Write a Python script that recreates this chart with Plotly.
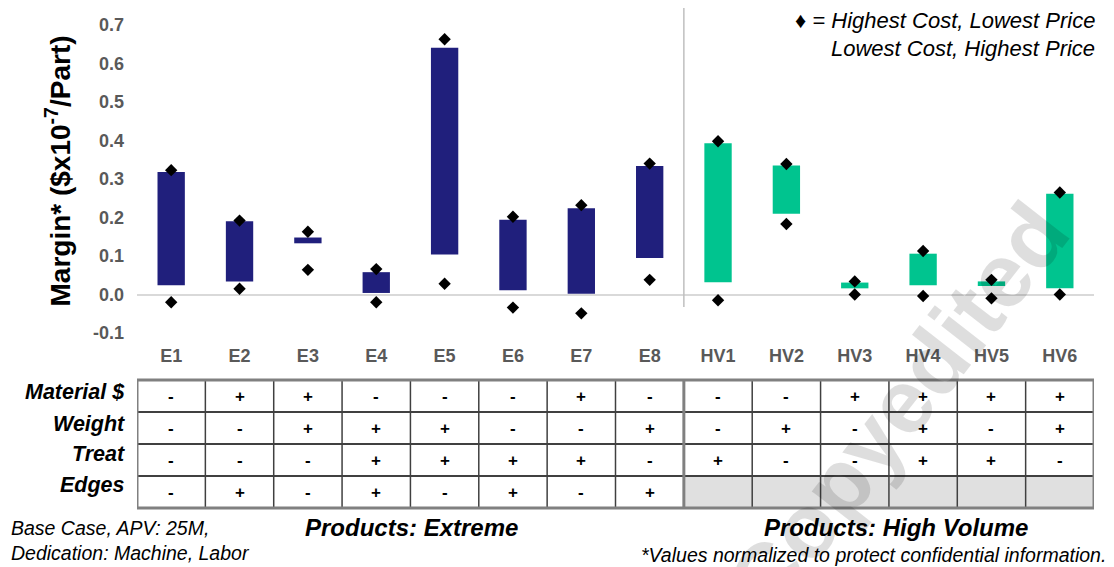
import plotly.graph_objects as go

# Products and margin ranges (units: $x10^-7 per part, normalized)
products = ["E1", "E2", "E3", "E4", "E5", "E6", "E7", "E8",
            "HV1", "HV2", "HV3", "HV4", "HV5", "HV6"]
extreme = products[:8]
high_volume = products[8:]

# Bar span: base-case margin range
bar_top = [0.318, 0.190, 0.148, 0.058, 0.641, 0.194, 0.224, 0.334,
           0.393, 0.335, 0.031, 0.106, 0.034, 0.262]
bar_bottom = [0.024, 0.034, 0.133, 0.004, 0.104, 0.011, 0.002, 0.095,
              0.032, 0.210, 0.016, 0.024, 0.022, 0.016]

# Diamonds: extreme cost / price scenarios
diamond_high = [0.323, 0.192, 0.163, 0.066, 0.663, 0.202, 0.232, 0.340,
                0.398, 0.339, 0.034, 0.113, 0.038, 0.265]
diamond_low = [-0.020, 0.015, 0.064, -0.020, 0.028, -0.034, -0.049, 0.038,
               -0.015, 0.183, 0.000, -0.004, -0.010, 0.000]

# Design-factor table under the chart
row_labels = ["Material $", "Weight", "Treat", "Edges"]
factor_table = [
    ["-", "+", "+", "-", "-", "-", "+", "-", "-", "-", "+", "+", "+", "+"],
    ["-", "-", "+", "+", "+", "-", "-", "+", "-", "+", "-", "+", "-", "+"],
    ["-", "-", "-", "+", "+", "+", "+", "-", "+", "-", "-", "+", "+", "-"],
    ["-", "+", "-", "+", "-", "+", "-", "+", None, None, None, None, None, None],
]

y_ticks = [-0.1, 0.0, 0.1, 0.2, 0.3, 0.4, 0.5, 0.6, 0.7]

NAVY = "#201F7C"
GREEN = "#00C48F"
FONT = "Liberation Sans, Arial, sans-serif"

W, H = 1114, 567
L, R, T, B = 137, 20, 25, 234
PLOT_W = W - L - R
PLOT_H = H - T - B


def px(x):
    return (x - L) / PLOT_W


def py(y):
    return (H - B - y) / PLOT_H


n_ext = len(extreme)
fig = go.Figure()

fig.add_trace(go.Bar(
    x=extreme,
    y=[t - b for t, b in zip(bar_top[:n_ext], bar_bottom[:n_ext])],
    base=bar_bottom[:n_ext],
    width=0.4, marker=dict(color=NAVY, line=dict(width=0)),
    showlegend=False, hoverinfo="skip",
))
fig.add_trace(go.Bar(
    x=high_volume,
    y=[t - b for t, b in zip(bar_top[n_ext:], bar_bottom[n_ext:])],
    base=bar_bottom[n_ext:],
    width=0.4, marker=dict(color=GREEN, line=dict(width=0)),
    showlegend=False, hoverinfo="skip",
))
for vals in (diamond_high, diamond_low):
    fig.add_trace(go.Scatter(
        x=products, y=vals, mode="markers",
        marker=dict(symbol="diamond", size=9.5, color="black"),
        showlegend=False, hoverinfo="skip",
    ))

shapes = []
annotations = []

# vertical divider between product families
shapes.append(dict(type="line", xref="x", yref="paper",
                   x0=n_ext - 0.5, x1=n_ext - 0.5, y0=py(307), y1=py(8),
                   line=dict(color="#BFBFBF", width=1.5)))

# table geometry (pixel rows)
tbl_top, row_h = 380, 32
n_rows = len(row_labels)
tbl_bot = tbl_top + n_rows * row_h

# grey fill for empty cells
for r, row in enumerate(factor_table):
    for c, val in enumerate(row):
        if val is None:
            shapes.append(dict(type="rect", xref="x", yref="paper",
                               x0=c - 0.5, x1=c + 0.5,
                               y0=py(tbl_top + (r + 1) * row_h),
                               y1=py(tbl_top + r * row_h),
                               fillcolor="#E0E0E0", line=dict(width=0),
                               layer="above"))

# inner horizontal lines
for r in range(1, n_rows):
    yy = py(tbl_top + r * row_h)
    shapes.append(dict(type="line", xref="x", yref="paper",
                       x0=-0.5, x1=len(products) - 0.5, y0=yy, y1=yy,
                       line=dict(color="#404040", width=2)))
# inner vertical lines
for c in range(1, len(products)):
    thick = c == n_ext
    shapes.append(dict(type="line", xref="x", yref="paper",
                       x0=c - 0.5, x1=c - 0.5, y0=py(tbl_bot), y1=py(tbl_top),
                       line=dict(color="#808080" if thick else "#404040",
                                 width=3 if thick else 1.5)))
# outer border
shapes.append(dict(type="rect", xref="x", yref="paper",
                   x0=-0.5, x1=len(products) - 0.5,
                   y0=py(tbl_bot), y1=py(tbl_top),
                   line=dict(color="#808080", width=3)))

# cell signs
for r, row in enumerate(factor_table):
    for c, val in enumerate(row):
        if val is None:
            continue
        annotations.append(dict(
            x=products[c], xref="x", yref="paper",
            y=py(tbl_top + r * row_h + row_h / 2),
            xanchor="center", yanchor="middle",
            text=val, showarrow=False,
            font=dict(family=FONT, size=17, color="black", weight="bold"),
        ))

# row labels
label_y = [392, 424, 454, 485]
for lab, yy in zip(row_labels, label_y):
    annotations.append(dict(
        x=px(127), y=py(yy), xref="paper", yref="paper",
        xanchor="right", yanchor="middle", text=lab, showarrow=False,
        font=dict(family=FONT, size=21.5, color="black",
                  weight="bold", style="italic"),
    ))

# axis title
annotations.append(dict(
    x=px(58.5), y=py(171), xref="paper", yref="paper",
    text="Margin* ($x10<sup>-7</sup>/Part)", textangle=-90,
    showarrow=False, xanchor="center", yanchor="middle",
    font=dict(family=FONT, size=28, color="black", weight="bold"),
))

# key (top right)
for txt, yy in (("\u2666 = Highest Cost, Lowest Price", 20.7),
                ("Lowest Cost, Highest Price", 48.3)):
    annotations.append(dict(
        x=px(1097), y=py(yy), xref="paper", yref="paper",
        xanchor="right", yanchor="middle", text=txt, showarrow=False,
        font=dict(family=FONT, size=22, color="black", style="italic"),
    ))

# footer notes
for txt, yy in (("Base Case, APV: 25M,", 528), ("Dedication: Machine, Labor", 553)):
    annotations.append(dict(
        x=px(9), y=py(yy), xref="paper", yref="paper",
        xanchor="left", yanchor="middle", text=txt, showarrow=False,
        font=dict(family=FONT, size=19.5, color="black", style="italic"),
    ))
for txt, xx in (("Products: Extreme", 411), ("Products: High Volume", 896)):
    annotations.append(dict(
        x=px(xx), y=py(527.5), xref="paper", yref="paper",
        xanchor="center", yanchor="middle", text=txt, showarrow=False,
        font=dict(family=FONT, size=24, color="black",
                  weight="bold", style="italic"),
    ))
annotations.append(dict(
    x=px(1108), y=py(555), xref="paper", yref="paper",
    xanchor="right", yanchor="middle",
    text="*Values normalized to protect confidential information.",
    showarrow=False,
    font=dict(family=FONT, size=19.5, color="black", style="italic"),
))

# watermark
annotations.append(dict(
    x=px(898), y=py(408), xref="paper", yref="paper",
    xanchor="center", yanchor="middle",
    text="Copyedited", textangle=-52, showarrow=False,
    font=dict(family=FONT, size=90, color="rgba(0,0,0,0.13)", weight="bold"),
))

fig.update_layout(
    width=W, height=H,
    margin=dict(l=L, r=R, t=T, b=B),
    paper_bgcolor="white", plot_bgcolor="white",
    barmode="overlay",
    shapes=shapes, annotations=annotations,
    xaxis=dict(
        type="category", categoryorder="array", categoryarray=products,
        range=[-0.5, len(products) - 0.5],
        showgrid=False, showline=False, zeroline=False, ticks="",
        tickfont=dict(family=FONT, size=18, color="#595959", weight="bold"),
        ticklabelstandoff=10,
    ),
    yaxis=dict(
        range=[-0.1, 0.7], tickvals=y_ticks,
        ticktext=[f"{v:.1f}" for v in y_ticks],
        showgrid=False, showline=False,
        zeroline=True, zerolinecolor="#D9D9D9", zerolinewidth=2,
        ticks="",
        tickfont=dict(family=FONT, size=18, color="#595959", weight="bold"),
        ticklabelstandoff=12,
    ),
    font=dict(family=FONT),
)

fig.write_html("out.html")
